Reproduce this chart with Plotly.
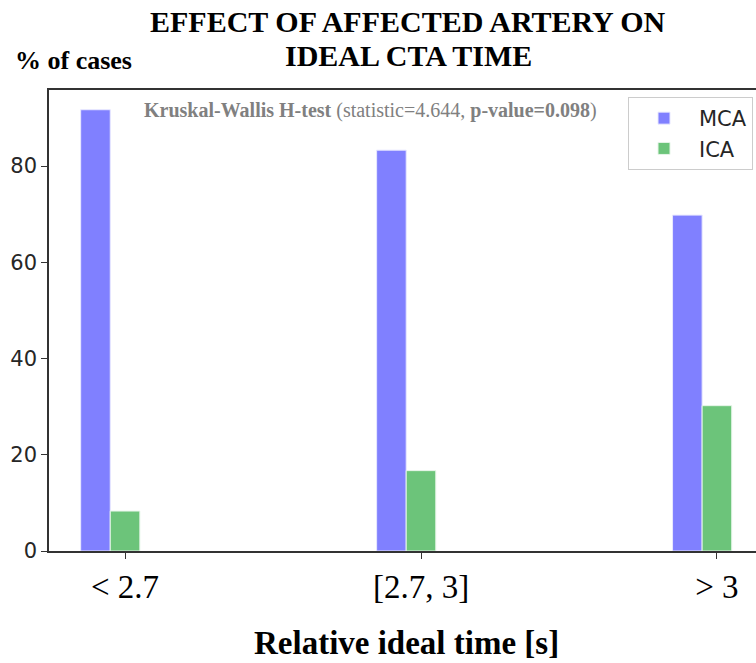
import plotly.graph_objects as go

categories = ["< 2.7", "[2.7, 3]", "> 3"]
mca_values = [91.7, 83.3, 69.8]
ica_values = [8.3, 16.7, 30.2]

W, H = 756, 663
L, R, T, B = 49, 756, 90, 551
pw, ph = R - L, B - T

serif = "Liberation Serif, Times New Roman, serif"
sans = "DejaVu Sans, sans-serif"

fig = go.Figure()
fig.add_trace(go.Bar(x=categories, y=mca_values, name="MCA", width=0.1, offset=-0.15,
                     marker=dict(color="#8080ff", line=dict(color="#e8e8ff", width=1))))
fig.add_trace(go.Bar(x=categories, y=ica_values, name="ICA", width=0.1, offset=-0.05,
                     marker=dict(color="#6cc47a", line=dict(color="#e6f5e8", width=1))))

fig.update_layout(
    width=W, height=H,
    margin=dict(l=L, r=W - R, t=T, b=H - B),
    paper_bgcolor="white", plot_bgcolor="white",
    barmode="overlay",
    showlegend=True,
    legend=dict(x=(753 - L) / pw, xanchor="right", y=(B - 97) / ph, yanchor="top",
                bgcolor="white", bordercolor="#cccccc", borderwidth=1,
                itemwidth=60, tracegroupgap=0,
                font=dict(family=sans, size=21, color="#262626")),
    xaxis=dict(type="category", range=[-0.257, 2.132], automargin=False,
               showline=True, linecolor="#333333", linewidth=1.5, mirror=True,
               ticks="outside", ticklen=6, tickcolor="#333333",
               tickfont=dict(family=serif, size=33, color="black"),
               showgrid=False, zeroline=False),
    yaxis=dict(range=[0, 95.8], tickvals=[0, 20, 40, 60, 80], automargin=False,
               showline=True, linecolor="#333333", linewidth=1.5,
               ticks="outside", ticklen=6, tickcolor="#333333",
               tickfont=dict(family=sans, size=21, color="#262626"),
               showgrid=False, zeroline=False),
)

title_lines = ["EFFECT OF AFFECTED ARTERY ON", "IDEAL CTA TIME"]
title_y = [22, 55]
for line, ypx in zip(title_lines, title_y):
    fig.add_annotation(text="<b>" + line + "</b>", xref="paper", yref="paper",
                       x=(408 - L) / pw, y=(B - ypx) / ph, xanchor="center", yanchor="middle",
                       showarrow=False, font=dict(family=serif, size=30, color="black"))

fig.add_annotation(text="<b>Relative ideal time [s]</b>", xref="paper", yref="paper",
                   x=(406 - L) / pw, y=(B - 643) / ph, xanchor="center", yanchor="middle",
                   showarrow=False, font=dict(family=serif, size=33, color="black"))
fig.add_annotation(text="<b>% of cases</b>", xref="paper", yref="paper",
                   x=(13 - L) / pw, y=(B - 60) / ph, xanchor="left", yanchor="middle",
                   showarrow=False, font=dict(family=serif, size=26, color="black"))
fig.add_annotation(text="<b>Kruskal-Wallis H-test</b> (statistic=4.644, <b>p-value=0.098</b>)",
                   xref="paper", yref="paper",
                   x=(370 - L) / pw, y=(B - 111) / ph, xanchor="center", yanchor="middle",
                   showarrow=False, font=dict(family=serif, size=20, color="#808080"))

fig.write_html("out.html", config={"displayModeBar": False},
               post_script="document.body.style.margin='0';")
